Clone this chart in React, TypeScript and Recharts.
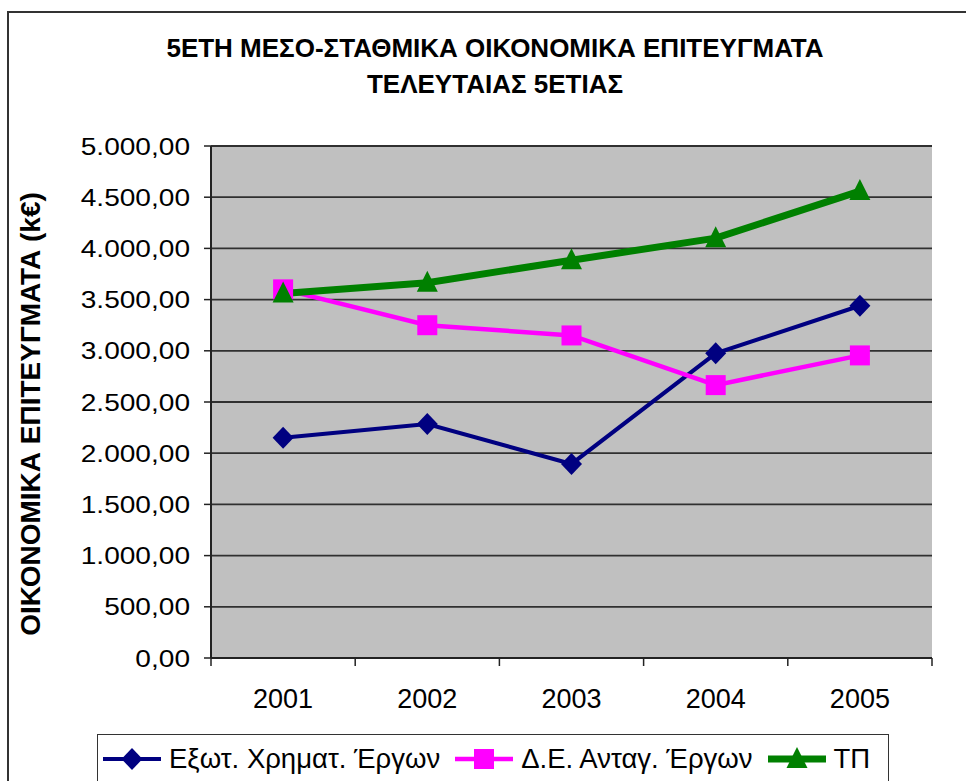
import React from "react";
import { CartesianGrid, Line, LineChart, XAxis, YAxis } from "recharts";

// values (k€)
const years = ["2001", "2002", "2003", "2004", "2005"];
const exotXrimat = [2150, 2285, 1895, 2975, 3440];
const deAntag = [3600, 3250, 3150, 2665, 2955];
const tp = [3560, 3665, 3885, 4100, 4560];
const yTicks = [0, 500, 1000, 1500, 2000, 2500, 3000, 3500, 4000, 4500, 5000];

const TITLE_1 = "5ΕΤΗ ΜΕΣΟ-ΣΤΑΘΜΙΚΑ ΟΙΚΟΝΟΜΙΚΑ ΕΠΙΤΕΥΓΜΑΤΑ";
const TITLE_2 = "ΤΕΛΕΥΤΑΙΑΣ 5ΕΤΙΑΣ";
const Y_LABEL = "ΟΙΚΟΝΟΜΙΚΑ ΕΠΙΤΕΥΓΜΑΤΑ (k€)";

const data = years.map((year, i) => ({
  year,
  exot: exotXrimat[i],
  de: deAntag[i],
  tp: tp[i],
}));

const W = 966;
const H = 781;
const PLOT_LEFT = 211;
const PLOT_RIGHT = 932;
const PLOT_TOP = 146;
const PLOT_BOTTOM = 658;
const BAND = (PLOT_RIGHT - PLOT_LEFT) / years.length;

const FONT = '"Liberation Sans", Arial, sans-serif';
const NAVY = "#000080";
const PINK = "#FF00FF";
const GREEN = "#008000";

const series = [
  { key: "exot", name: "Εξωτ. Χρηματ. Έργων", color: NAVY, width: 4, marker: "diamond" },
  { key: "de", name: "Δ.Ε. Ανταγ. Έργων", color: PINK, width: 4.5, marker: "square" },
  { key: "tp", name: "ΤΠ", color: GREEN, width: 7, marker: "triangle" },
];

// 5.000,00 style
function fmtEl(v: number) {
  const s = Math.round(v).toString().replace(/\B(?=(\d{3})+(?!\d))/g, ".");
  return `${s},00`;
}

function Marker({ kind, cx, cy, color }: { kind: string; cx: number; cy: number; color: string }) {
  if (kind === "diamond") {
    return (
      <path
        d={`M${cx},${cy - 11}L${cx + 10.5},${cy}L${cx},${cy + 11}L${cx - 10.5},${cy}Z`}
        fill={color}
      />
    );
  }
  if (kind === "square") {
    return <rect x={cx - 10} y={cy - 10} width={20} height={20} fill={color} />;
  }
  return (
    <path d={`M${cx},${cy - 12}L${cx + 10.5},${cy + 9}L${cx - 10.5},${cy + 9}Z`} fill={color} />
  );
}

function YTick(props: any) {
  const { x, y, payload } = props;
  return (
    <text
      transform={`translate(${x},${y + 8.5}) scale(1.17,1)`}
      textAnchor="end"
      fontFamily={FONT}
      fontSize={24}
      fill="#000"
    >
      {fmtEl(payload.value)}
    </text>
  );
}

function XTick(props: any) {
  const { x, y, payload, index } = props;
  const last = index === years.length - 1;
  return (
    <g>
      <line x1={x - BAND / 2} x2={x - BAND / 2} y1={y} y2={y + 8} stroke="#222" strokeWidth={1.5} />
      {last && (
        <line x1={x + BAND / 2} x2={x + BAND / 2} y1={y} y2={y + 8} stroke="#222" strokeWidth={1.5} />
      )}
      <text x={x} y={y + 50} textAnchor="middle" fontFamily={FONT} fontSize={27} fill="#000">
        {payload.value}
      </text>
    </g>
  );
}

function LegendIcon({ color, width, marker }: { color: string; width: number; marker: string }) {
  return (
    <svg width={58} height={26} style={{ display: "block" }}>
      <line x1={0} x2={58} y1={13} y2={13} stroke={color} strokeWidth={width} />
      <Marker kind={marker} cx={29} cy={13} color={color} />
    </svg>
  );
}

export default function App() {
  return (
    <div
      style={{
        position: "absolute",
        left: 0,
        top: 0,
        width: W,
        height: H,
        overflow: "hidden",
        background: "#fff",
        fontFamily: FONT,
      }}
    >
      <div
        style={{
          position: "absolute",
          left: 7,
          top: 11,
          width: 1100,
          height: 1000,
          border: "2px solid #333",
          boxSizing: "border-box",
        }}
      />
      <LineChart
        width={W}
        height={H}
        data={data}
        margin={{ top: PLOT_TOP, right: W - PLOT_RIGHT, bottom: H - PLOT_BOTTOM - 60, left: 0 }}
        style={{ position: "absolute", left: 0, top: 0 }}
      >
        <CartesianGrid
          vertical={false}
          fill="#C0C0C0"
          fillOpacity={1}
          stroke="#303030"
          strokeWidth={1.8}
        />
        <XAxis
          dataKey="year"
          type="category"
          height={60}
          padding={{ left: BAND / 2, right: BAND / 2 }}
          tickLine={false}
          tickSize={0}
          tickMargin={0}
          axisLine={{ stroke: "#222", strokeWidth: 2 }}
          tick={<XTick />}
          interval={0}
        />
        <YAxis
          width={PLOT_LEFT}
          domain={[0, 5000]}
          ticks={yTicks}
          interval={0}
          tickSize={7}
          tickMargin={14}
          axisLine={{ stroke: "#222", strokeWidth: 2 }}
          tickLine={{ stroke: "#222", strokeWidth: 1.5 }}
          tick={<YTick />}
        />
        {/* plot-area frame on the right side */}
        <YAxis
          yAxisId="frame"
          orientation="right"
          width={0}
          domain={[0, 5000]}
          tick={false}
          tickLine={false}
          axisLine={{ stroke: "#8a8a8a", strokeWidth: 2 }}
        />
        {series.map((s) => (
          <Line
            key={s.key}
            dataKey={s.key}
            name={s.name}
            type="linear"
            stroke={s.color}
            strokeWidth={s.width}
            isAnimationActive={false}
            activeDot={false}
            dot={(p: any) => (
              <Marker key={`${s.key}-${p.index}`} kind={s.marker} cx={p.cx} cy={p.cy} color={s.color} />
            )}
          />
        ))}
      </LineChart>

      <div
        style={{
          position: "absolute",
          left: 12,
          top: 30,
          width: W,
          textAlign: "center",
          fontWeight: "bold",
          fontSize: 26,
          lineHeight: "36px",
          color: "#000",
        }}
      >
        <div>{TITLE_1}</div>
        <div>{TITLE_2}</div>
      </div>

      <svg
        width={W}
        height={H}
        style={{ position: "absolute", left: 0, top: 0, pointerEvents: "none" }}
      >
        <text
          transform="translate(40,414) rotate(-90)"
          textAnchor="middle"
          fontFamily={FONT}
          fontWeight="bold"
          fontSize={28}
          fill="#000"
        >
          {Y_LABEL}
        </text>
      </svg>

      <div
        style={{
          position: "absolute",
          left: 97,
          top: 734,
          width: 792,
          height: 52,
          border: "1.5px solid #333",
          boxSizing: "border-box",
          background: "#fff",
          display: "flex",
          alignItems: "center",
          paddingLeft: 5,
          paddingBottom: 2,
        }}
      >
        {series.map((s) => (
          <div key={s.key} style={{ display: "flex", alignItems: "center", marginRight: 15 }}>
            <LegendIcon color={s.color} width={s.width} marker={s.marker} />
            <span
              style={{ fontSize: 27.5, marginLeft: 8, color: "#000", whiteSpace: "nowrap" }}
            >
              {s.name}
            </span>
          </div>
        ))}
      </div>
    </div>
  );
}
